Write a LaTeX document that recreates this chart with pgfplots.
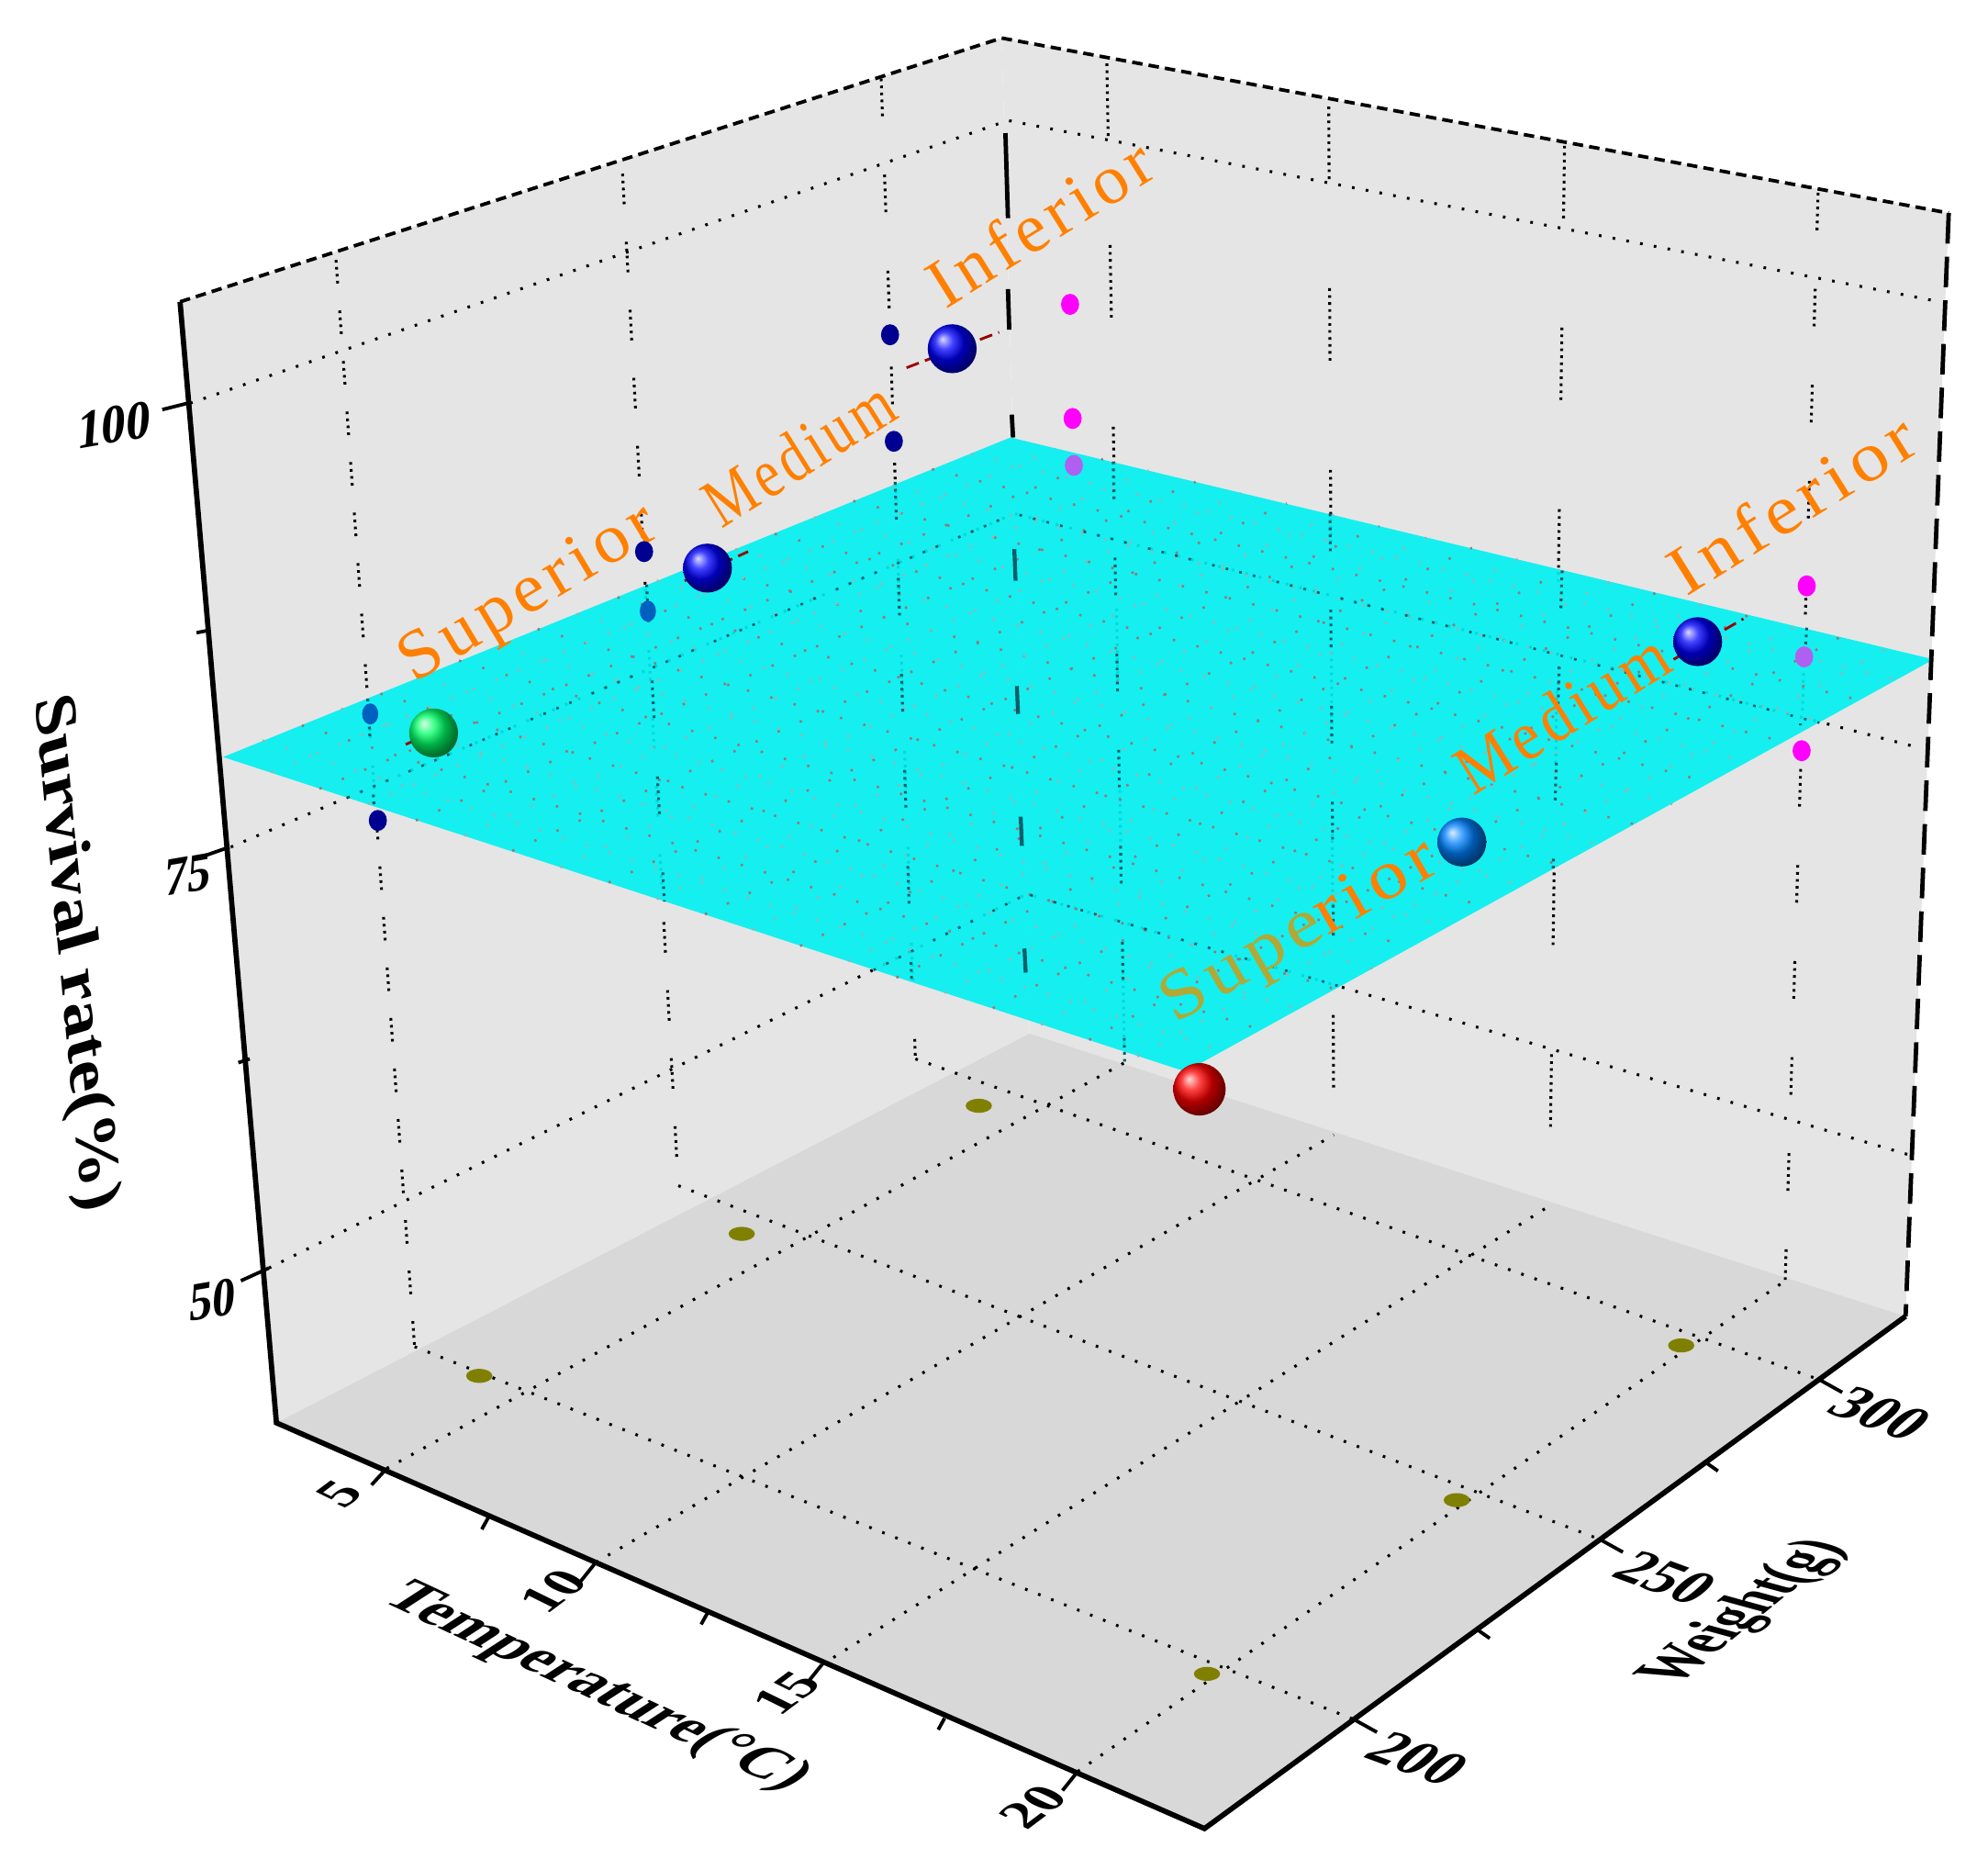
\documentclass[border=0pt]{standalone}
\usepackage{pgfplots}
\pgfplotsset{compat=1.18}
\usepackage{fontspec}
\setmainfont{Liberation Serif}
\definecolor{wallc}{HTML}{E5E5E5}
\definecolor{floorc}{HTML}{D8D8D8}
\definecolor{planec}{HTML}{00F1F1}
\definecolor{labelc}{HTML}{FF8000}
\definecolor{olivec}{HTML}{808000}
\definecolor{navyc}{HTML}{000090}
\definecolor{midb}{HTML}{0060C0}
\definecolor{magc}{HTML}{FF00FF}
\definecolor{purc}{HTML}{B060F0}
\definecolor{stipa}{HTML}{907C7C}
\definecolor{stipb}{HTML}{8FB8B8}
\definecolor{tealc}{HTML}{005F6B}
\tikzset{
  gv1/.style={line width=0.65pt,dash pattern=on 0.6pt off 1pt on 0.6pt off 1pt on 0.6pt off 1pt on 0.6pt off 6.2pt},
  gv2/.style={line width=0.65pt,dash pattern=on 0.6pt off 1pt on 0.6pt off 1pt on 0.6pt off 1pt on 0.6pt off 1pt on 0.6pt off 8.6pt},
  gv3/.style={line width=0.65pt,dash pattern=on 0.6pt off 1pt on 0.6pt off 1pt on 0.6pt off 1pt on 0.6pt off 1pt on 0.6pt off 1pt on 0.6pt off 13.4pt},
  gv4/.style={line width=0.65pt,dash pattern=on 0.6pt off 1pt on 0.6pt off 1pt on 0.6pt off 1pt on 0.6pt off 1pt on 0.6pt off 1pt on 0.6pt off 1pt on 0.6pt off 1pt on 0.6pt off 1pt on 0.6pt off 1pt on 0.6pt off 1pt on 0.6pt off 25pt},
  gridh/.style={black,line width=0.65pt,dash pattern=on 0.6pt off 2.6pt},
  lab/.style={font=\fontsize{16}{16}\selectfont\addfontfeature{LetterSpace=8},text=labelc,inner sep=0pt},
  tick/.style={font=\fontsize{14}{14}\selectfont\bfseries,inner sep=0pt},
}
\begin{document}
\begin{tikzpicture}
\begin{axis}[
  scale only axis, width=16cm, height=15.04cm,
  xmin=0, xmax=1568, ymin=0, ymax=1474, y dir=reverse,
  hide axis, clip=false, unbounded coords=jump,
]
% keeps the page as large as the whole frame
\addplot[draw=none] coordinates {(0,0)(1568,1474)};
% walls and floor
\addplot[fill=wallc,draw=none] coordinates {(142,238)(790,30)(812,815)(218,1122)} --cycle;
\addplot[fill=wallc,draw=none] coordinates {(790,30)(1537,168)(1503,1038)(812,815)} --cycle;
\addplot[fill=floorc,draw=none] coordinates {(218,1122)(812,815)(1503,1038)(950,1442)} --cycle;
% wall grid, vertical
\addplot[black,gv1] coordinates {(265,205)(327,1062)};
\addplot[black,gv2] coordinates {(491,137)(535,935)};
\addplot[black,gv3] coordinates {(695,62)(722,835)};
\addplot[black,gv4] coordinates {(873,50)(887,838)};
\addplot[black,gv4] coordinates {(1048,84)(1052,895)};
\addplot[black,gv4] coordinates {(1234,115)(1222,951)};
\addplot[black,gv3] coordinates {(1434,152)(1408,1010)};
% wall grid, horizontal, and floor grid
\addplot[gridh] table {
150 318
795 95
1530 238
nan nan
182 668
800 405
1515 590
nan nan
212 1000
810 705
1510 912
nan nan
305 1158
887 838
nan nan
470 1232
1052 895
nan nan
648 1313
1222 951
nan nan
850 1397
1408 1010
nan nan
327 1062
1068 1356
nan nan
535 935
1262 1214
nan nan
722 835
1435 1088
};
% back edge, seen only in pieces
\addplot[black,line width=1pt] table {
793 105
795 172
nan nan
795 228
796 260
nan nan
798 327
799 345
};
% dots on the floor
\addplot[only marks,mark=*,mark size=2.8pt,mark options={fill=olivec,draw=olivec,yscale=0.5}] table {
378 1085
585 973
772 872
952 1320
1149 1183
1326 1061
};
% plane
\addplot[fill=planec,fill opacity=0.9,draw=none] coordinates {(176,597)(797,345)(1525,520)(935,845)} --cycle;
\addplot[stipa,line width=0.55pt,dash pattern=on 0.55pt off 5pt] table {
252 622
870 362
nan nan
328 647
943 380
nan nan
404 671
1015 397
nan nan
480 696
1088 415
nan nan
556 721
1161 432
nan nan
631 746
1234 450
nan nan
707 771
1307 467
nan nan
783 795
1379 485
nan nan
859 820
1452 502
nan nan
238 572
994 812
nan nan
300 547
1053 780
nan nan
362 521
1112 747
nan nan
424 496
1171 715
nan nan
487 471
1230 682
nan nan
549 446
1289 650
nan nan
611 421
1348 617
nan nan
673 395
1407 585
nan nan
735 370
1466 552
};
\addplot[stipb,line width=0.55pt,dash pattern=on 0.55pt off 5pt] table {
214 609
833 354
nan nan
290 634
906 371
nan nan
366 659
979 389
nan nan
442 684
1052 406
nan nan
518 709
1125 424
nan nan
593 733
1197 441
nan nan
669 758
1270 459
nan nan
745 783
1343 476
nan nan
821 808
1416 494
nan nan
897 833
1489 511
nan nan
207 584
965 829
nan nan
269 559
1024 796
nan nan
331 534
1083 764
nan nan
393 509
1142 731
nan nan
455 484
1201 699
nan nan
518 458
1260 666
nan nan
580 433
1319 634
nan nan
642 408
1378 601
nan nan
704 383
1437 569
nan nan
766 358
1496 536
};
% grid seen through the plane
\addplot[tealc,line width=0.55pt,dash pattern=on 0.6pt off 2.6pt on 0.6pt off 2.6pt on 0.6pt off 2.6pt on 0.6pt off 5pt] table {
274 629
800 405
1435 570
nan nan
689 765
810 705
1057 778
};
\addplot[tealc,gv3] table {
290 551
295 636
nan nan
510 461
524 711
nan nan
706 380
719 773
nan nan
878 364
887 838
nan nan
1049 405
1052 782
nan nan
1232 450
1225 685
nan nan
1425 495
1420 572
};
\addplot[tealc,line width=0.9pt] table {
800 433
801 458
nan nan
802 541
803 563
nan nan
805 644
806 667
nan nan
808 748
809 767
};
% axes
\addplot[black,line width=1.2pt] coordinates {(142,238)(218,1122)(950,1442)(1503,1038)};
\addplot[black,line width=0.8pt,dash pattern=on 2.4pt off 1.4pt] coordinates {(142,238)(790,30)(1537,168)};
\addplot[black,line width=1pt,dash pattern=on 7pt off 3pt] coordinates {(1537,168)(1503,1038)};
\addplot[black,line width=0.8pt] table {
148 318
128 323
nan nan
165 497
155 499
nan nan
181 668
161 675
nan nan
197 835
188 838
nan nan
212 1000
190 1010
nan nan
305 1158
293 1171
nan nan
385 1197
380 1206
nan nan
470 1232
458 1247
nan nan
558 1272
553 1281
nan nan
648 1313
636 1328
nan nan
745 1355
740 1364
nan nan
850 1397
838 1412
nan nan
1068 1356
1086 1366
nan nan
1165 1285
1175 1292
nan nan
1262 1214
1280 1224
nan nan
1345 1153
1355 1160
nan nan
1435 1088
1453 1098
};
% dots on the walls
\addplot[only marks,mark=*,mark size=2.2pt,mark options={fill=navyc,draw=navyc,xscale=0.85}] table {
702 264
705 348
508 435
298 647
};
\addplot[only marks,mark=*,mark size=2.2pt,mark options={fill=midb,draw=midb,xscale=0.75}] table {
511 482
292 563
};
\addplot[only marks,mark=*,mark size=2.2pt,mark options={fill=magc,draw=magc,xscale=0.85}] table {
844 240
846 330
1425 462
1421 592
};
\addplot[only marks,mark=*,mark size=2.2pt,mark options={fill=purc,draw=purc,xscale=0.85}] table {
847 367
1423 518
};
% short red lines through the spheres
\addplot[red!60!black,line width=0.6pt,dash pattern=on 3pt off 1.5pt] table {
715 290
788 262
nan nan
540 458
590 435
nan nan
320 587
360 570
nan nan
1320 520
1375 488
};
% spheres
\addplot[only marks,mark=ball,mark size=5.6pt,mark options={ball color=blue,draw opacity=0}] table {
751 275
558 448
1339 506
};
\addplot[only marks,mark=ball,mark size=5.6pt,mark options={ball color=green!60!cyan,draw opacity=0}] table {
342 578
};
\addplot[only marks,mark=ball,mark size=5.6pt,mark options={ball color={rgb,255:red,0;green,130;blue,255},draw opacity=0}] table {
1153 664
};
\addplot[only marks,mark=ball,mark size=6pt,mark options={ball color=red,draw opacity=0}] table {
946 859
};
% labels on the walls
\node[lab,rotate=31,xscale=1.03] at (axis cs:418,470) {Superior};
\node[lab,rotate=32,xscale=0.8] at (axis cs:630,357) {Medium};
\node[lab,rotate=32] at (axis cs:820,175) {Inferior};
\node[lab,rotate=30,xscale=1.12] at (axis cs:1026,736) {\textcolor{olive!70!white}{Supe}rior};
\node[lab,rotate=32,xscale=0.9] at (axis cs:1232,562) {Medium};
\node[lab,rotate=32,xscale=1.1] at (axis cs:1413,397) {Inferior};
% tick labels
\node[tick,cm={0.8,0.14,0.06,0.9,(0,0)}] at (axis cs:90,335) {100};
\node[tick,cm={0.75,0.13,0.06,0.9,(0,0)}] at (axis cs:148,690) {75};
\node[tick,cm={0.75,0.13,0.06,0.9,(0,0)}] at (axis cs:168,1025) {50};
\node[tick,cm={0.72,0.54,-0.77,0.38,(0,0)}] at (axis cs:268,1178) {5};
\node[tick,cm={0.72,0.54,-0.77,0.38,(0,0)}] at (axis cs:436,1255) {10};
\node[tick,cm={0.72,0.54,-0.77,0.38,(0,0)}] at (axis cs:620,1335) {15};
\node[tick,cm={0.72,0.54,-0.77,0.38,(0,0)}] at (axis cs:815,1425) {20};
\node[tick,cm={0.9,-0.33,0.75,0.65,(0,0)}] at (axis cs:1118,1387) {200};
\node[tick,cm={0.9,-0.33,0.75,0.65,(0,0)}] at (axis cs:1314,1244) {250};
\node[tick,cm={0.9,-0.33,0.75,0.65,(0,0)}] at (axis cs:1483,1115) {300};
% axis titles
\node[tick,cm={0.11,-1.16,0.96,0.28,(0,0)}] at (axis cs:58,752) {Survival rate(\%)};
\node[tick,cm={0.906,-0.423,0.85,0.55,(0,0)}] at (axis cs:470,1331) {Temperature(°C)};
\node[tick,cm={0.66,0.54,-1.1,0.3,(0,0)}] at (axis cs:1376,1272) {Weight(g)};
\end{axis}
\end{tikzpicture}
\end{document}
